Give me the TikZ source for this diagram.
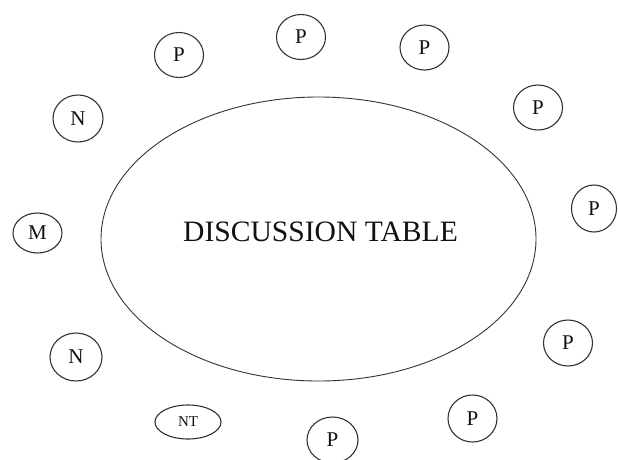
\documentclass[tikz,border=0pt]{standalone}
\usepackage{fontspec}
\usetikzlibrary{shapes.geometric}
\setmainfont{Liberation Serif}
\definecolor{ink}{HTML}{111111}
\definecolor{edge}{HTML}{333333}
\begin{document}
\begin{tikzpicture}[x=1pt,y=-1pt,
  seat/.style={draw=edge,line width=1.1pt,ellipse,inner sep=0pt,minimum width=49pt,minimum height=45pt,text=ink,font=\fontsize{21}{21}\selectfont},
  ]
\useasboundingbox (0,0) rectangle (618,459);
\node[draw=edge,line width=0.9pt,ellipse,minimum width=435pt,minimum height=284pt,inner sep=0pt] (table) at (318.5,239) {};
\node[text=ink,font=\fontsize{29.6}{29.6}\selectfont] (label) at (320.5,231.5) {DISCUSSION TABLE};
\node[seat] (p1) at (179,55) {P};
\node[seat] (p2) at (301,37) {P};
\node[seat] (p3) at (424.5,47.5) {P};
\node[seat] (p4) at (538,107.5) {P};
\node[seat,minimum width=45pt,minimum height=47pt] (p5) at (594,208.5) {P};
\node[seat,minimum height=46pt] (p6) at (568,343) {P};
\node[seat,minimum height=47pt] (p7) at (472.5,418.5) {P};
\node[seat,minimum width=51pt,minimum height=46pt] (p8) at (332.5,440) {P};
\node[seat,minimum width=66pt,minimum height=34pt,font=\fontsize{15}{15}\selectfont] (nt) at (188,422) {NT};
\node[seat,minimum width=52pt,minimum height=48pt] (n2) at (76,357) {N};
\node[seat,minimum width=49pt,minimum height=40pt] (m) at (37.5,233) {M};
\node[seat,minimum width=50pt,minimum height=47pt] (n1) at (78,118.5) {N};
\end{tikzpicture}
\end{document}
